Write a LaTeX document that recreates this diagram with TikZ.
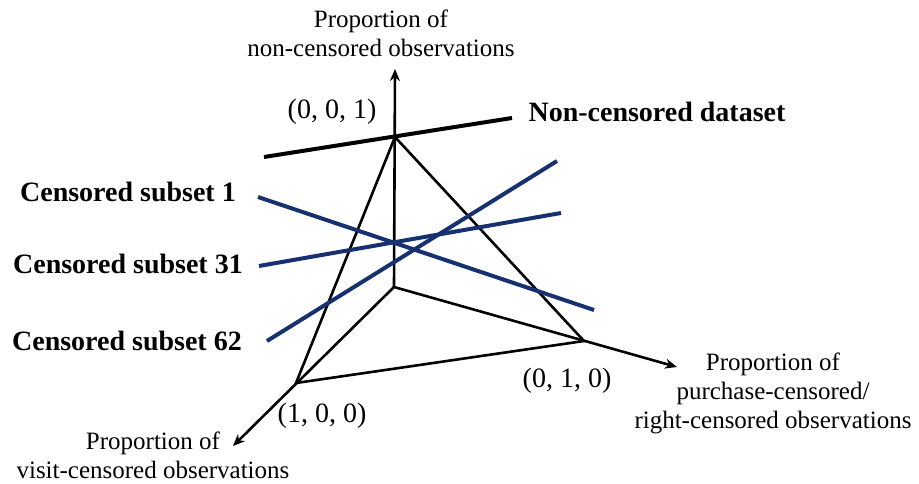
\documentclass[tikz,border=0pt]{standalone}
\usepackage{fontspec}
\setmainfont{Liberation Serif}
\usetikzlibrary{arrows.meta}
\definecolor{navyline}{RGB}{22,48,112}
\tikzset{
  axis/.style={line width=2.6pt,-{Stealth[length=12pt,width=10pt]}},
  edge/.style={line width=2.6pt},
  dataline/.style={line width=4pt,navyline},
  fullline/.style={line width=4pt,black},
  axlabel/.style={font=\fontsize{25}{29}\selectfont,align=center,inner sep=0pt},
  vlabel/.style={font=\fontsize{28}{32}\selectfont,inner sep=0pt},
  setlabel/.style={font=\fontsize{28}{32}\selectfont\bfseries,inner sep=0pt}
}
\begin{document}
\begin{tikzpicture}[x=1pt,y=-1pt]
\useasboundingbox (0,0) rectangle (919,483);
% vertices
\coordinate (O) at (394,287);
\coordinate (T) at (395,137);
\coordinate (R) at (584,341);
\coordinate (L) at (296,383);
\coordinate (AT) at (395,69);
\coordinate (AR) at (677,367);
\coordinate (AL) at (233,446);
% axes
\draw[axis] (O) -- (AT);
\draw[axis] (O) -- (AR);
\draw[axis] (O) -- (AL);
% triangle
\draw[edge,line join=miter] (L) -- (T) -- (R) -- cycle;
% data lines
\coordinate (N1) at (264,157); \coordinate (N2) at (512,118);
\coordinate (S1a) at (258,197); \coordinate (S1b) at (594,310);
\coordinate (S31a) at (259,266); \coordinate (S31b) at (561,213);
\coordinate (S62a) at (267,341); \coordinate (S62b) at (557,161);
\draw[fullline] (N1) -- (N2);
\draw[dataline] (S1a) -- (S1b);
\draw[dataline] (S31a) -- (S31b);
\draw[dataline] (S62a) -- (S62b);
% labels
\node[axlabel] (lt) at (381,33) {Proportion of\\non-censored observations};
\node[axlabel] (lr) at (773,393) {Proportion of\\purchase-censored/\\right-censored observations};
\node[axlabel] (ll) at (153,455) {Proportion of\\visit-censored observations};
\node[vlabel] (v1) at (332,112) {(0, 0, 1)};
\node[vlabel] (v2) at (567,381) {(0, 1, 0)};
\node[vlabel] (v3) at (322,416) {(1, 0, 0)};
\node[setlabel] (sn) at (657,112) {Non-censored dataset};
\node[setlabel] (s1) at (128,192) {Censored subset 1};
\node[setlabel] (s31) at (128,264) {Censored subset 31};
\node[setlabel] (s62) at (127,341) {Censored subset 62};
\end{tikzpicture}
\end{document}
